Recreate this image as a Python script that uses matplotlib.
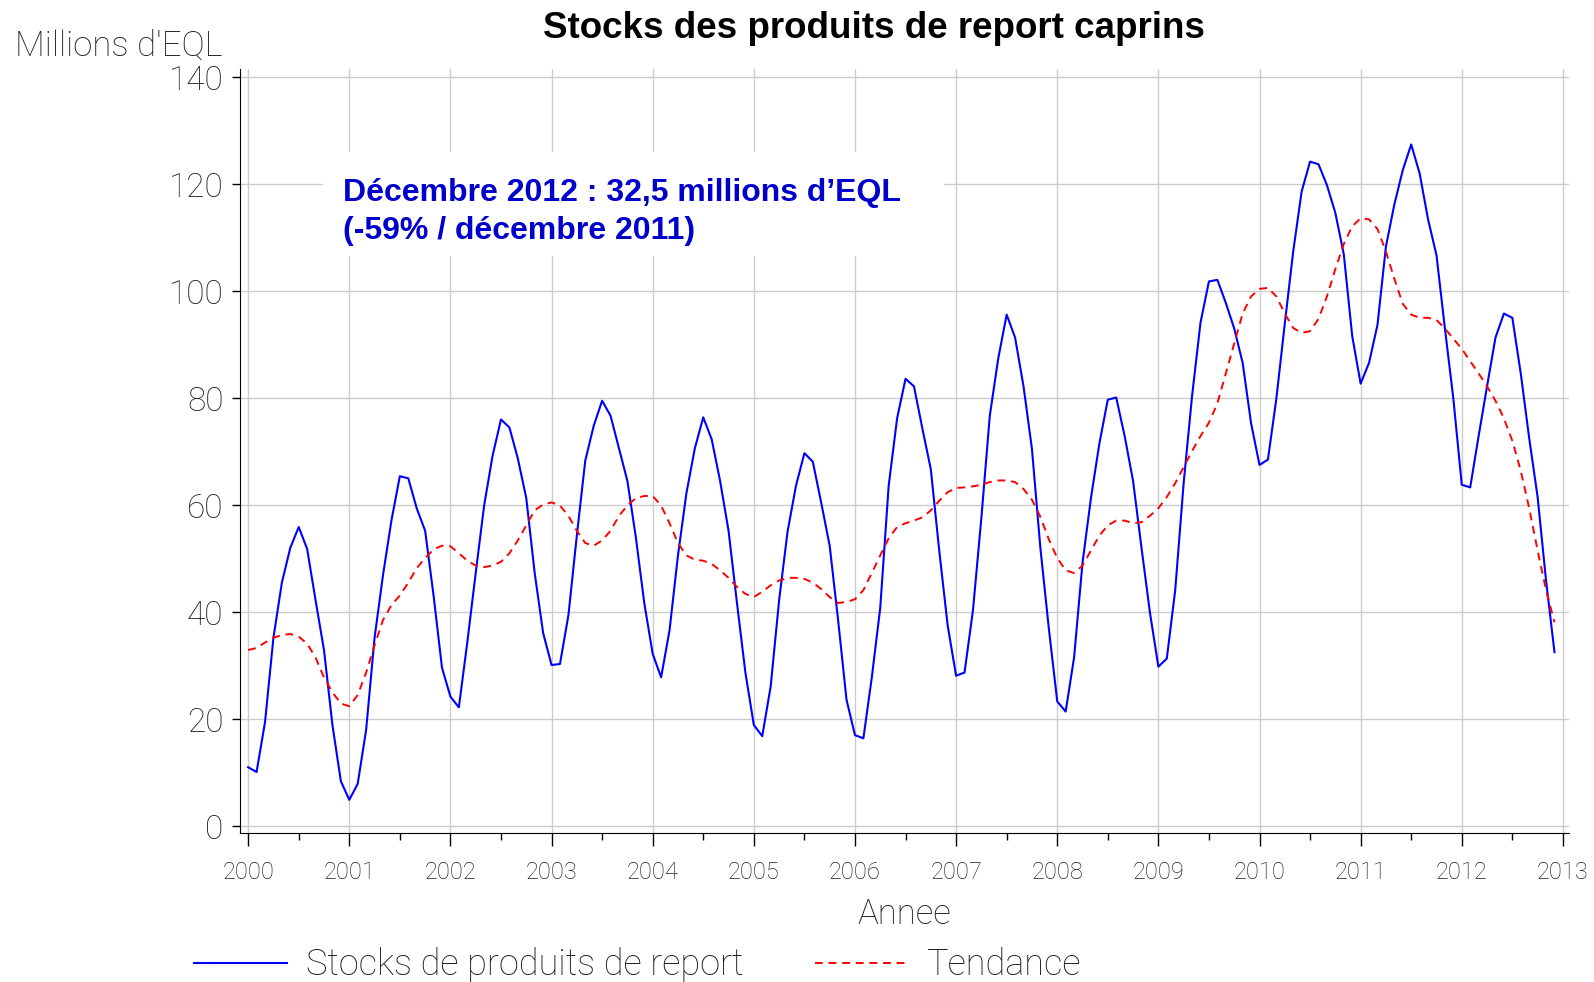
import numpy as np
import matplotlib
matplotlib.use("Agg")
import matplotlib.pyplot as plt
from matplotlib.patches import Rectangle
from matplotlib.ticker import MultipleLocator
from matplotlib.font_manager import FontProperties

# Data ----------------------------------------------------------------------------------------------------------------
years = list(range(2000, 2014))

# monthly stocks, Jan 2000 -> Dec 2012 (millions d'EQL)
stocks = [
    11.0, 10.1, 19.4, 35.2, 45.5, 52.0, 55.9, 51.8, 42.2, 32.9, 18.9, 8.4,
    4.9, 7.9, 18.0, 35.2, 46.9, 57.1, 65.4, 65.0, 59.4, 55.2, 43.1, 29.6,
    24.2, 22.2, 34.3, 47.3, 59.9, 69.2, 76.0, 74.5, 68.7, 61.3, 47.3, 36.1,
    30.1, 30.3, 39.4, 54.3, 68.3, 74.8, 79.5, 76.7, 70.6, 64.5, 54.0, 41.7,
    32.2, 27.8, 36.6, 50.6, 62.2, 70.6, 76.4, 72.3, 64.5, 55.2, 41.7, 28.7,
    18.9, 16.8, 26.1, 42.2, 55.0, 63.6, 69.7, 68.1, 60.4, 52.4, 38.5, 23.6,
    17.0, 16.4, 27.8, 40.8, 63.6, 76.2, 83.6, 82.2, 74.3, 66.7, 51.5, 37.5,
    28.1, 28.7, 40.3, 57.6, 76.7, 87.4, 95.6, 91.3, 82.2, 70.5, 52.0, 37.0,
    23.3, 21.4, 31.5, 49.2, 61.3, 71.5, 79.7, 80.1, 72.9, 64.5, 52.0, 39.9,
    29.8, 31.3, 44.1, 64.1, 80.4, 94.1, 101.8, 102.1, 97.8, 93.0, 86.6, 75.3,
    67.5, 68.5, 79.9, 93.9, 107.4, 118.6, 124.2, 123.7, 119.8, 114.6, 106.9, 91.6,
    82.7, 86.6, 93.7, 108.3, 116.2, 122.6, 127.4, 122.0, 113.4, 106.7, 93.0, 79.9,
    63.8, 63.3, 72.9, 82.2, 91.3, 95.8, 95.0, 84.6, 72.5, 61.5, 45.9, 32.5,
]

# trend (tendance), same months
tendance = [
    32.9, 33.3, 34.3, 35.2, 35.7, 35.9, 35.4, 34.1, 31.5, 27.8, 25.0, 22.9,
    22.4, 24.5, 28.7, 33.8, 38.5, 41.3, 43.1, 45.5, 48.2, 50.1, 51.7, 52.4,
    52.3, 51.0, 49.6, 48.7, 48.4, 48.7, 49.4, 51.0, 53.4, 56.2, 59.0, 60.1,
    60.5, 59.9, 58.0, 55.2, 52.9, 52.4, 53.4, 55.2, 58.0, 59.9, 61.3, 61.7,
    61.7, 59.9, 56.6, 52.9, 50.6, 49.8, 49.6, 49.0, 47.8, 46.4, 44.7, 43.4,
    42.8, 43.8, 45.0, 45.9, 46.4, 46.4, 46.2, 45.5, 44.3, 42.8, 41.7, 41.9,
    42.4, 44.1, 47.3, 50.6, 53.8, 55.9, 56.6, 57.1, 57.7, 59.0, 60.8, 62.4,
    63.2, 63.3, 63.5, 63.8, 64.3, 64.6, 64.6, 64.3, 63.0, 61.0, 57.8, 53.6,
    50.1, 47.8, 47.3, 48.7, 51.5, 54.3, 56.2, 57.1, 57.1, 56.6, 56.8, 58.0,
    59.4, 61.5, 64.1, 67.1, 70.1, 72.9, 75.4, 79.0, 84.6, 90.2, 95.8, 99.0,
    100.4, 100.6, 99.0, 95.8, 93.1, 92.2, 92.5, 94.8, 99.0, 104.1, 108.8, 112.1,
    113.6, 113.4, 111.6, 107.4, 102.3, 97.6, 95.6, 95.0, 95.0, 94.6, 93.0, 91.1,
    89.2, 86.9, 84.6, 82.2, 79.5, 76.2, 72.0, 66.4, 59.4, 51.5, 44.1, 38.1,
]

months = 2000 + np.arange(len(stocks)) / 12.0

title = "Stocks des produits de report caprins"
note = "Décembre 2012 : 32,5 millions d\u2019EQL\n(-59% / décembre 2011)"
# ---------------------------------------------------------------------------------------------------------------------

ink = "#202020"


def thin(size):
    return FontProperties(family="Roboto", weight="light", size=size)


fig = plt.figure(figsize=(15.94, 9.82), dpi=100)
ax = fig.add_axes([0.1506, 0.1517, 0.8337, 0.7780])

ax.plot(months, stocks, color="#0000ff", lw=1.5, label="Stocks de produits de report", zorder=3)
ax.plot(months, tendance, color="#ff0000", lw=1.4, dashes=(4, 3), label="Tendance", zorder=3)

ax.set_xlim(1999.92, 2013.06)
ax.set_ylim(-1.3, 141.5)
ax.set_xticks(years)
ax.xaxis.set_minor_locator(MultipleLocator(0.5))
ax.yaxis.set_major_locator(MultipleLocator(20))
ax.grid(True, color="#cccccc", lw=1)
ax.set_axisbelow(True)

for side in ("top", "right"):
    ax.spines[side].set_visible(False)
ax.tick_params(axis="x", which="major", length=9, width=1, pad=11)
ax.tick_params(axis="x", which="minor", length=5, width=1)
ax.tick_params(axis="y", which="major", length=6, width=1, pad=6)

for lab in ax.get_xticklabels():
    lab.set_fontproperties(thin(17))
    lab.set_color(ink)
for lab in ax.get_yticklabels():
    lab.set_fontproperties(thin(24))
    lab.set_color(ink)

# white box behind the note
ax.add_patch(Rectangle((0.0627, 0.755), 0.4668, 0.136, transform=ax.transAxes,
                       facecolor="white", edgecolor="none", zorder=2))
ax.text(0.0773, 0.8129, note, transform=ax.transAxes, ha="left", va="center",
        family="Liberation Sans", weight="bold", size=23, color="#0000cc",
        linespacing=1.33, zorder=4)

fig.text(0.548, 0.971, title, ha="center", va="center", family="Liberation Sans",
         weight="bold", size=26.5)
fig.text(0.0095, 0.953, "Millions d'EQL", ha="left", va="center", fontproperties=thin(25), color=ink)
ax.set_xlabel("Annee", fontproperties=thin(25), color=ink, labelpad=10)

leg = fig.legend(loc="center", bbox_to_anchor=(0.40, 0.017), ncol=2, frameon=False,
                 handlelength=2.6, columnspacing=2.0, handletextpad=0.5,
                 prop=thin(26))
for t in leg.get_texts():
    t.set_color(ink)

fig.savefig("out.png", dpi=100)
